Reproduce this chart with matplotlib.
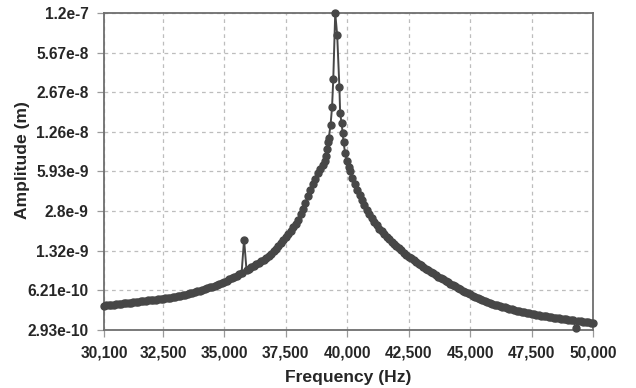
import matplotlib
matplotlib.use("Agg")
import matplotlib.pyplot as plt
from matplotlib.ticker import FixedLocator, NullLocator

freq_hz = [
    30100, 30200, 30300, 30400, 30500, 30600, 30700, 30800, 30900, 31000,
    31100, 31200, 31300, 31400, 31500, 31600, 31700, 31800, 31900, 32000,
    32100, 32200, 32300, 32400, 32500, 32600, 32700, 32800, 32900, 33000,
    33100, 33200, 33300, 33400, 33500, 33600, 33700, 33800, 33900, 34000,
    34100, 34200, 34300, 34400, 34500, 34600, 34700, 34800, 34900, 35000,
    35100, 35200, 35300, 35400, 35500, 35600, 35700, 35800, 35900, 36000,
    36100, 36200, 36300, 36400, 36500, 36600, 36700, 36800, 36900,
    37000, 37100, 37200, 37300, 37400, 37500, 37600, 37700, 37800, 37900,
    38000, 38100, 38200, 38300, 38400, 38500, 38600, 38700, 38800, 38900,
    39000, 39080, 39120, 39170, 39210, 39250, 39320, 39380, 39430, 39510,
    39590, 39680, 39710, 39770, 39810, 39850, 39910, 39980, 40050,
    40100, 40200, 40300, 40400, 40500, 40600, 40700, 40800, 40900, 41000,
    41100, 41200, 41300, 41400, 41500, 41600, 41700, 41800, 41900, 42000,
    42100, 42200, 42300, 42400, 42500, 42600, 42700, 42800, 42900, 43000,
    43100, 43200, 43300, 43400, 43500, 43600, 43700, 43800, 43900, 44000,
    44100, 44200, 44300, 44400, 44500, 44600, 44700, 44800, 44900, 45000,
    45100, 45200, 45300, 45400, 45500, 45600, 45700, 45800, 45900, 46000,
    46100, 46200, 46300, 46400, 46500, 46600, 46700, 46800, 46900, 47000,
    47100, 47200, 47300, 47400, 47500, 47600, 47700, 47800, 47900, 48000,
    48100, 48200, 48300, 48400, 48500, 48600, 48700, 48800, 48900, 49000,
    49100, 49200, 49300, 49400, 49500, 49600, 49700, 49800, 49900, 50000,
]

amplitude_m = [
    4.66e-10, 4.68e-10, 4.70e-10, 4.72e-10, 4.74e-10, 4.765e-10, 4.79e-10, 4.82e-10, 4.85e-10, 4.875e-10,
    4.90e-10, 4.925e-10, 4.95e-10, 4.98e-10, 5.01e-10, 5.04e-10, 5.07e-10, 5.10e-10, 5.13e-10, 5.16e-10,
    5.19e-10, 5.22e-10, 5.25e-10, 5.28e-10, 5.31e-10, 5.345e-10, 5.38e-10, 5.42e-10, 5.46e-10, 5.51e-10,
    5.56e-10, 5.61e-10, 5.66e-10, 5.72e-10, 5.79e-10, 5.86e-10, 5.94e-10, 6.02e-10, 6.10e-10, 6.19e-10,
    6.29e-10, 6.39e-10, 6.49e-10, 6.58e-10, 6.67e-10, 6.78e-10, 6.90e-10, 7.04e-10, 7.18e-10, 7.33e-10,
    7.49e-10, 7.65e-10, 7.82e-10, 8.01e-10, 8.21e-10, 8.43e-10, 8.67e-10, 1.63e-9, 9.14e-10, 9.39e-10,
    9.65e-10, 9.92e-10, 1.02e-9, 1.05e-9, 1.08e-9, 1.115e-9, 1.15e-9, 1.195e-9, 1.24e-9,
    1.30e-9, 1.37e-9, 1.44e-9, 1.52e-9, 1.61e-9, 1.70e-9, 1.81e-9, 1.92e-9, 2.05e-9, 2.20e-9,
    2.38e-9, 2.63e-9, 2.92e-9, 3.27e-9, 3.70e-9, 4.14e-9, 4.64e-9, 5.19e-9, 5.76e-9, 6.27e-9,
    6.77e-9, 7.30e-9, 8.02e-9, 9.11e-9, 1.03e-8, 1.13e-8, 1.44e-8, 2.00e-8, 3.42e-8, 1.20e-7,
    7.87e-8, 2.92e-8, 1.79e-8, 1.48e-8, 1.23e-8, 1.03e-8, 8.44e-9, 7.30e-9, 6.43e-9,
    5.98e-9, 5.24e-9, 4.64e-9, 4.18e-9, 3.77e-9, 3.43e-9, 3.12e-9, 2.84e-9, 2.63e-9, 2.44e-9,
    2.27e-9, 2.13e-9, 2.01e-9, 1.91e-9, 1.81e-9, 1.72e-9, 1.64e-9, 1.56e-9, 1.50e-9, 1.43e-9,
    1.38e-9, 1.325e-9, 1.27e-9, 1.225e-9, 1.18e-9, 1.14e-9, 1.10e-9, 1.065e-9, 1.03e-9, 9.97e-10,
    9.65e-10, 9.36e-10, 9.07e-10, 8.81e-10, 8.56e-10, 8.32e-10, 8.08e-10, 7.86e-10, 7.65e-10, 7.44e-10,
    7.24e-10, 7.05e-10, 6.87e-10, 6.69e-10, 6.52e-10, 6.35e-10, 6.19e-10, 6.03e-10, 5.88e-10, 5.75e-10,
    5.62e-10, 5.50e-10, 5.38e-10, 5.27e-10, 5.17e-10, 5.07e-10, 4.97e-10, 4.89e-10, 4.81e-10, 4.74e-10,
    4.67e-10, 4.61e-10, 4.55e-10, 4.495e-10, 4.44e-10, 4.39e-10, 4.34e-10, 4.285e-10, 4.23e-10, 4.19e-10,
    4.15e-10, 4.11e-10, 4.07e-10, 4.02e-10, 3.97e-10, 3.935e-10, 3.90e-10, 3.875e-10, 3.85e-10, 3.82e-10,
    3.79e-10, 3.76e-10, 3.73e-10, 3.705e-10, 3.68e-10, 3.655e-10, 3.63e-10, 3.605e-10, 3.58e-10, 3.555e-10,
    3.53e-10, 3.51e-10, 3.03e-10, 3.47e-10, 3.45e-10, 3.43e-10, 3.41e-10, 3.39e-10, 3.37e-10, 3.36e-10,
]

x_ticks = [30100, 32500, 35000, 37500, 40000, 42500, 45000, 47500, 50000]
x_tick_labels = ["30,100", "32,500", "35,000", "37,500", "40,000", "42,500", "45,000", "47,500", "50,000"]
y_ticks = [2.93e-10, 6.21e-10, 1.32e-9, 2.8e-9, 5.93e-9, 1.26e-8, 2.67e-8, 5.67e-8, 1.2e-7]
y_tick_labels = ["2.93e-10", "6.21e-10", "1.32e-9", "2.8e-9", "5.93e-9", "1.26e-8", "2.67e-8", "5.67e-8", "1.2e-7"]

plt.rcParams['font.family'] = ['Liberation Sans', 'DejaVu Sans']

fig = plt.figure(figsize=(6.36, 3.88), dpi=100)
ax = fig.add_axes([104/636, 1 - 330/388, (593 - 104)/636, (330 - 13)/388])

ax.set_yscale('log')
ax.set_xlim(30100, 50000)
ax.set_ylim(2.93e-10, 1.2e-7)

line_col = '#474747'
ax.plot(freq_hz, amplitude_m, color=line_col, lw=1.4, marker='o', ms=5.0,
        mec=line_col, mfc=line_col, mew=1.0, clip_on=False, zorder=3)

ax.xaxis.set_major_locator(FixedLocator(x_ticks))
ax.set_xticklabels(x_tick_labels)
ax.yaxis.set_major_locator(FixedLocator(y_ticks))
ax.yaxis.set_minor_locator(NullLocator())
ax.set_yticklabels(y_tick_labels)

ax.grid(True, which='major', color='#bdbdbd', linestyle=(0, (3, 3)), linewidth=0.9)
ax.set_axisbelow(True)

for s in ax.spines.values():
    s.set_color('#6e6e6e')
    s.set_linewidth(1.3)

ax.tick_params(axis='both', which='major', direction='out', length=5, width=0.9,
               color='#9a9a9a', labelsize=11.2, labelcolor='#262626')
ax.tick_params(axis='y', pad=6)
ax.tick_params(axis='x', pad=6)
for lab in ax.get_xticklabels() + ax.get_yticklabels():
    lab.set_fontweight('bold')

ax.set_xlabel('Frequency (Hz)', fontsize=12.6, fontweight='bold', color='#262626')
ax.set_ylabel('Amplitude (m)', fontsize=12.6, fontweight='bold', color='#262626')
ax.xaxis.set_label_coords(0.5, -0.125)
ax.yaxis.set_label_coords(-0.152, 0.535)

fig.savefig('out.png', dpi=100)
